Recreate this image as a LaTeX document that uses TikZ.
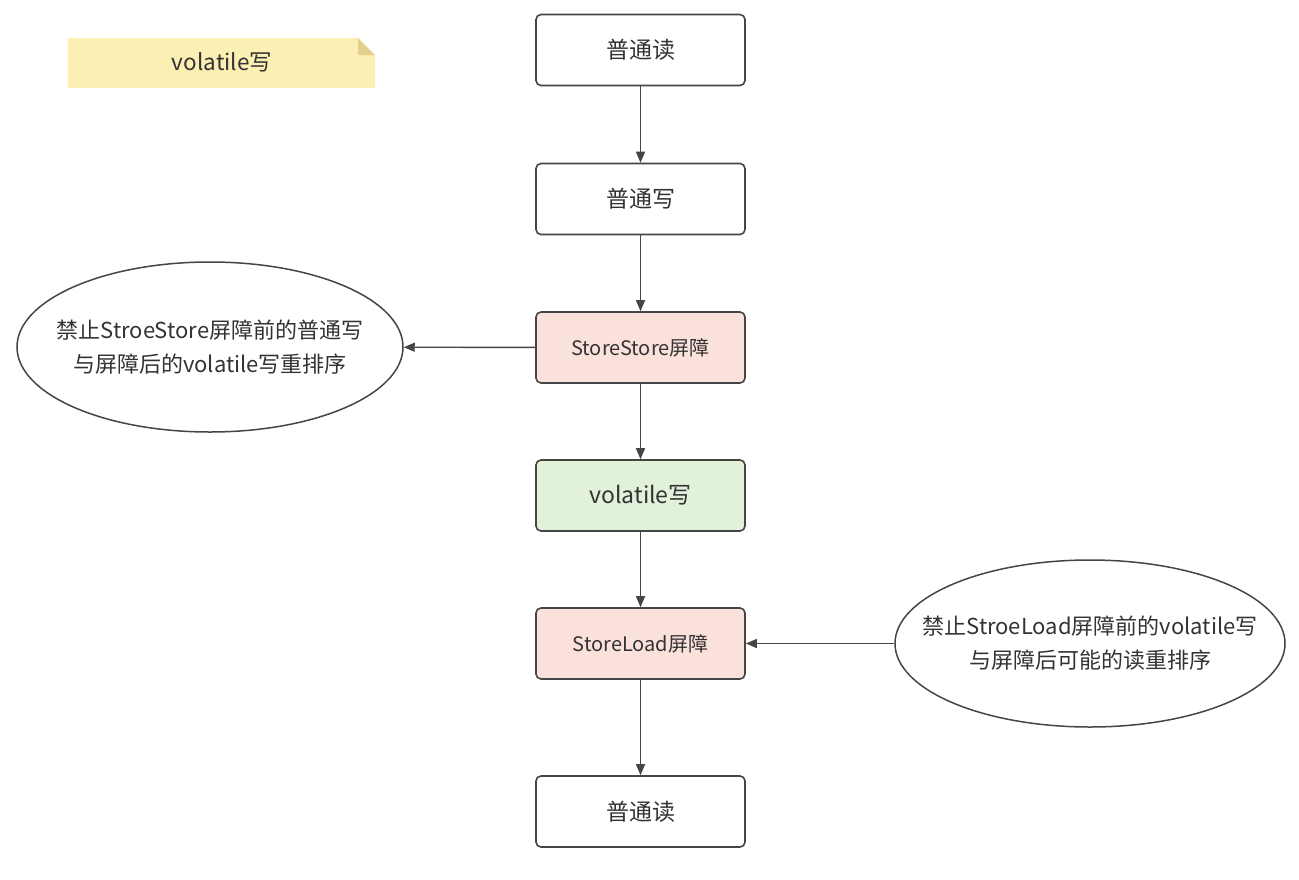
\documentclass[tikz,border=0pt]{standalone}
\usepackage{fontspec}
\setmainfont{Noto Sans CJK SC}
\usetikzlibrary{shapes.geometric,arrows.meta}
\definecolor{edge}{HTML}{454545}
\definecolor{txt}{HTML}{333333}
\definecolor{pinkfill}{HTML}{FBE1DC}
\definecolor{greenfill}{HTML}{E2F1DA}
\definecolor{notefill}{HTML}{FCEFB4}
\definecolor{notefold}{HTML}{E2D08F}
\tikzset{
  x=1pt, y=-1pt,
  stepbox/.style={draw=edge, line width=1.6pt, rounded corners=5pt, minimum width=209pt, minimum height=71pt, text=txt, font=\fontsize{23}{27}\selectfont, inner sep=0pt},
  oval/.style={draw=edge, line width=1.5pt, ellipse, inner sep=0pt},
  ovaltext/.style={text=txt, font=\fontsize{22}{34}\selectfont, align=center, inner sep=0pt},
  conn/.style={draw=edge, line width=1.4pt, -{Triangle[length=11pt,width=9pt]}}
}
\begin{document}
\begin{tikzpicture}
\useasboundingbox (0,0) rectangle (1299,879);
% note
\fill[notefill] (68,38) -- (358,38) -- (375,55) -- (375,88) -- (68,88) -- cycle;
\fill[notefold] (358,38) -- (375,55) -- (358,55) -- cycle;
\node[text=txt, font=\fontsize{22.5}{26}\selectfont] (note) at (222,62) {volatile写};
% boxes
\node[stepbox, fill=white] (r1) at (640.5,50) {普通读};
\node[stepbox, fill=white] (w1) at (640.5,199) {普通写};
\node[stepbox, fill=pinkfill, font=\fontsize{20}{24}\selectfont] (ss) at (640.5,347.5) {StoreStore屏障};
\node[stepbox, fill=greenfill] (vw) at (640.5,495.5) {volatile写};
\node[stepbox, fill=pinkfill, font=\fontsize{20}{24}\selectfont] (sl) at (640.5,643.5) {StoreLoad屏障};
\node[stepbox, fill=white] (r2) at (640.5,811.5) {普通读};
% ellipses
\node[oval, minimum width=386pt, minimum height=170pt] (e1) at (210,347) {};
\node[ovaltext] (t1) at (e1.center) {禁止StroeStore屏障前的普通写\\与屏障后的volatile写重排序};
\node[oval, minimum width=390pt, minimum height=167pt] (e2) at (1090,643.5) {};
\node[ovaltext] (t2) at (e2.center) {禁止StroeLoad屏障前的volatile写\\与屏障后可能的读重排序};
% connectors
\draw[conn] (r1) -- (w1);
\draw[conn] (w1) -- (ss);
\draw[conn] (ss) -- (vw);
\draw[conn] (vw) -- (sl);
\draw[conn] (sl) -- (r2);
\draw[conn] (ss) -- (e1);
\draw[conn] (e2) -- (sl);
\end{tikzpicture}
\end{document}
